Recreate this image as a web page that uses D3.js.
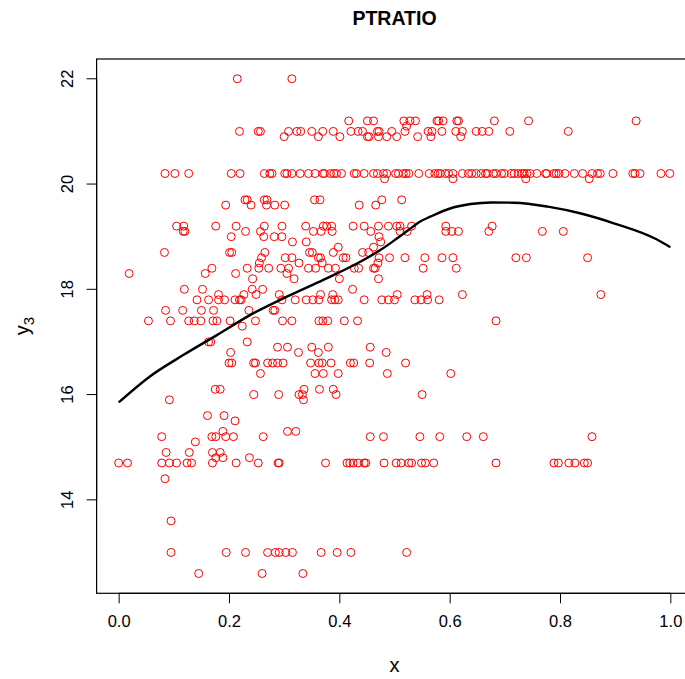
<!DOCTYPE html>
<html lang="en">
<head>
<meta charset="UTF-8" />
<title>PTRATIO</title>
<script src="https://cdn.jsdelivr.net/npm/d3@7"></script>
<style>
  body { margin: 0; background: #fff; }
  svg text { font-family: "Liberation Sans", Arial, Helvetica, sans-serif; fill: #000; }
</style>
</head>
<body>
<svg id="chart" width="685" height="679"></svg>
<script>
// ptratio levels (y) and the x positions of the points sitting on each level
const ptratioLevels = [22.0, 21.2, 21.1, 21.0, 20.9, 20.2, 20.1, 19.7, 19.6, 19.2, 19.1, 19.0, 18.9, 18.8, 18.7,
  18.6, 18.5, 18.4, 18.3, 18.2, 18.0, 17.9, 17.8, 17.6, 17.4, 17.3, 17.0, 16.9, 16.8, 16.6, 16.4, 16.1, 16.0,
  15.9, 15.6, 15.5, 15.3, 15.2, 15.1, 14.9, 14.8, 14.7, 14.4, 13.6, 13.0, 12.6];

const xByLevel = [
  [0.215, 0.314],
  [0.417, 0.451, 0.462, 0.517, 0.528, 0.538, 0.577, 0.580, 0.588, 0.613, 0.616, 0.681, 0.743, 0.938],
  [0.522],
  [0.219, 0.253, 0.257, 0.308, 0.323, 0.330, 0.350, 0.370, 0.389, 0.421, 0.434, 0.442, 0.469, 0.472, 0.495,
   0.519, 0.561, 0.568, 0.586, 0.611, 0.623, 0.648, 0.659, 0.671, 0.709, 0.815],
  [0.300, 0.362, 0.401, 0.451, 0.454, 0.471, 0.486, 0.504, 0.542, 0.566, 0.620],
  [0.084, 0.102, 0.127, 0.204, 0.220, 0.264, 0.274, 0.278, 0.301, 0.305, 0.314, 0.329, 0.344, 0.356, 0.370,
   0.373, 0.384, 0.390, 0.395, 0.404, 0.427, 0.431, 0.445, 0.462, 0.469, 0.480, 0.486, 0.502, 0.507, 0.516,
   0.521, 0.526, 0.544, 0.563, 0.573, 0.579, 0.583, 0.592, 0.598, 0.606, 0.623, 0.634, 0.640, 0.648, 0.657,
   0.665, 0.668, 0.679, 0.684, 0.694, 0.699, 0.712, 0.717, 0.724, 0.731, 0.735, 0.740, 0.746, 0.758, 0.774,
   0.776, 0.789, 0.793, 0.798, 0.809, 0.826, 0.841, 0.858, 0.868, 0.873, 0.896, 0.932, 0.936, 0.945, 0.983, 0.999],
  [0.482, 0.606, 0.738, 0.853],
  [0.229, 0.233, 0.264, 0.269, 0.355, 0.365, 0.477, 0.513],
  [0.194, 0.240, 0.268, 0.283, 0.301, 0.436, 0.466],
  [0.105, 0.118, 0.176, 0.213, 0.264, 0.296, 0.339, 0.371, 0.377, 0.386, 0.425, 0.445, 0.471, 0.489, 0.504,
   0.510, 0.531, 0.593, 0.677],
  [0.117, 0.120, 0.230, 0.257, 0.353, 0.367, 0.387, 0.457, 0.510, 0.523, 0.593, 0.604, 0.616, 0.671, 0.768, 0.806],
  [0.204, 0.263, 0.282, 0.296, 0.472],
  [0.315, 0.340, 0.475],
  [0.398, 0.462],
  [0.083, 0.201, 0.205, 0.265, 0.346, 0.351, 0.389, 0.442, 0.453],
  [0.259, 0.302, 0.314, 0.362, 0.366, 0.407, 0.412, 0.472, 0.491, 0.519, 0.555, 0.586, 0.606, 0.720, 0.739, 0.850],
  [0.255, 0.327, 0.369, 0.470],
  [0.169, 0.233, 0.254, 0.272, 0.294, 0.308, 0.344, 0.357, 0.380, 0.393, 0.427, 0.435, 0.462, 0.465, 0.552, 0.612],
  [0.019, 0.157, 0.212, 0.305],
  [0.243, 0.318, 0.400, 0.471],
  [0.119, 0.152, 0.242, 0.261, 0.424],
  [0.181, 0.227, 0.249, 0.291, 0.366, 0.388, 0.505, 0.559, 0.623, 0.874],
  [0.142, 0.163, 0.181, 0.192, 0.211, 0.219, 0.222, 0.296, 0.320, 0.340, 0.352, 0.363, 0.386, 0.392, 0.398,
   0.445, 0.477, 0.489, 0.500, 0.537, 0.548, 0.560, 0.581],
  [0.085, 0.116, 0.150, 0.172, 0.236, 0.280, 0.283],
  [0.054, 0.094, 0.127, 0.137, 0.149, 0.171, 0.178, 0.202, 0.248, 0.297, 0.314, 0.363, 0.370, 0.379, 0.409, 0.433, 0.684],
  [0.224],
  [0.163, 0.167, 0.233],
  [0.288, 0.306, 0.350, 0.380, 0.456],
  [0.203, 0.326, 0.362, 0.485],
  [0.200, 0.205, 0.245, 0.248, 0.270, 0.279, 0.288, 0.298, 0.348, 0.363, 0.369, 0.385, 0.420, 0.426, 0.455, 0.520],
  [0.257, 0.356, 0.371, 0.398, 0.487, 0.602],
  [0.175, 0.184, 0.336, 0.364, 0.389],
  [0.245, 0.290, 0.327, 0.333, 0.394, 0.550],
  [0.092, 0.335],
  [0.161, 0.191],
  [0.211],
  [0.189, 0.306, 0.321],
  [0.078, 0.169, 0.176, 0.194, 0.208, 0.262, 0.456, 0.480, 0.546, 0.582, 0.631, 0.661, 0.858],
  [0.139],
  [0.086, 0.128, 0.170, 0.184],
  [0.176, 0.189, 0.237],
  [0.000, 0.016, 0.078, 0.092, 0.105, 0.124, 0.132, 0.170, 0.213, 0.253, 0.289, 0.291, 0.375, 0.414, 0.419,
   0.425, 0.434, 0.445, 0.448, 0.481, 0.503, 0.512, 0.526, 0.531, 0.549, 0.556, 0.571, 0.684, 0.789, 0.797,
   0.816, 0.827, 0.844, 0.850],
  [0.084],
  [0.095],
  [0.095, 0.195, 0.230, 0.270, 0.284, 0.291, 0.303, 0.315, 0.367, 0.396, 0.421, 0.522],
  [0.145, 0.260, 0.334]
];

// smooth fit line
const curveX = [0, 0.056, 0.117, 0.178, 0.238, 0.311, 0.371, 0.432, 0.475, 0.505, 0.526, 0.545, 0.565,
  0.602, 0.638, 0.675, 0.717, 0.778, 0.838, 0.899, 0.975, 1.0];
const curveY = [15.85, 16.34, 16.75, 17.13, 17.51, 17.89, 18.18, 18.49, 18.75, 18.97, 19.13, 19.28, 19.38,
  19.54, 19.62, 19.65, 19.645, 19.57, 19.44, 19.25, 18.95, 18.80];

const xTicks = [0, 0.2, 0.4, 0.6, 0.8, 1.0];
const yTicks = [14, 16, 18, 20, 22];

const points = [];
ptratioLevels.forEach((lev, i) => {
  xByLevel[i].forEach(xv => points.push({x: xv, y: lev}));
});

const svg = d3.select("#chart");
const plotL = 96.6, plotR = 692.4, plotT = 59, plotB = 593.3;

var x_scale = d3.scaleLinear().domain([-0.04, 1.04]).range([plotL, plotR]);
var y_scale = d3.scaleLinear().domain([12.224, 22.376]).range([plotB, plotT]);

// points
svg.append("g").selectAll("circle").data(points).enter().append("circle")
  .attr("cx", d => x_scale(d.x))
  .attr("cy", d => y_scale(d.y))
  .attr("r", 4)
  .attr("fill", "none")
  .attr("stroke", "#ff0000")
  .attr("stroke-width", 1);

// fitted curve
const line = d3.line()
  .x(d => x_scale(d[0]))
  .y(d => y_scale(d[1]))
  .curve(d3.curveMonotoneX);
svg.append("path")
  .datum(curveX.map((v, i) => [v, curveY[i]]))
  .attr("d", line)
  .attr("fill", "none")
  .attr("stroke", "#000")
  .attr("stroke-width", 2.4);

// box
svg.append("rect")
  .attr("x", plotL).attr("y", plotT)
  .attr("width", plotR - plotL).attr("height", plotB - plotT)
  .attr("fill", "none").attr("stroke", "#000").attr("stroke-width", 1.2);

// axes
var x_axis = d3.axisBottom(x_scale).tickValues(xTicks).tickFormat(d3.format(".1f")).tickSize(10).tickPadding(12);
var y_axis = d3.axisLeft(y_scale).tickValues(yTicks).tickFormat(d3.format("d")).tickSize(10);

const gx = svg.append("g").attr("transform", `translate(0,${plotB})`).call(x_axis);
gx.select(".domain").attr("d", `M${x_scale(0)},0H${x_scale(1)}`).attr("stroke-width", 1.2);
gx.selectAll("text").style("font-size", "16.5px").style("font-family", "Liberation Sans, Arial, sans-serif");

const gy = svg.append("g").attr("transform", `translate(${plotL},0)`).call(y_axis);
gy.select(".domain").attr("d", `M0,${y_scale(14)}V${y_scale(22)}`).attr("stroke-width", 1.2);
gy.selectAll(".tick").attr("transform", null);
gy.selectAll(".tick line").attr("y1", d => y_scale(d)).attr("y2", d => y_scale(d));
gy.selectAll(".tick text")
  .attr("x", null).attr("dy", null).attr("y", 0)
  .attr("text-anchor", "middle")
  .attr("transform", d => `translate(-24,${y_scale(d)}) rotate(-90)`)
  .style("font-size", "16.5px")
  .style("font-family", "Liberation Sans, Arial, sans-serif");

// titles
svg.append("text")
  .attr("x", (plotL + plotR) / 2).attr("y", 25)
  .attr("text-anchor", "middle")
  .style("font-size", "19.5px").style("font-weight", "bold")
  .text("PTRATIO");

svg.append("text")
  .attr("x", (plotL + plotR) / 2).attr("y", 672)
  .attr("text-anchor", "middle")
  .style("font-size", "20px")
  .text("x");

const ylab = svg.append("text")
  .attr("transform", `translate(29,${(plotT + plotB) / 2}) rotate(-90)`)
  .attr("text-anchor", "middle")
  .style("font-size", "20px");
ylab.append("tspan").text("y");
ylab.append("tspan").attr("dy", 5).style("font-size", "15px").text("3");
</script>
</body>
</html>
